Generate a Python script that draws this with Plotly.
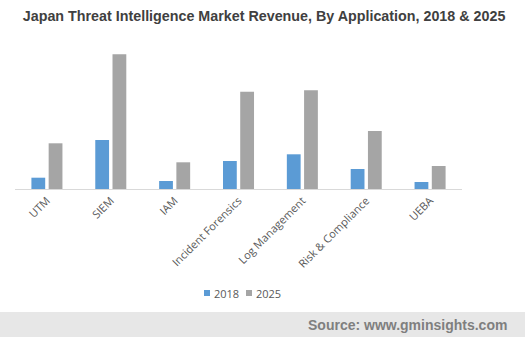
import plotly.graph_objects as go

categories = ["UTM", "SIEM", "IAM", "Incident Forensics", "Log Management", "Risk & Compliance", "UEBA"]
rev_2018 = [11.3, 49, 8, 28, 34.7, 20, 7]
rev_2025 = [45.7, 134.7, 26.7, 97.3, 98.7, 58, 23]
series_names = ["2018", "2025"]
series_colors = ["#5B9BD5", "#A5A5A5"]

W, H = 525, 337
PT, PB, PL, PR = 39, 189, 15, 462
PH = PB - PT
PW = PR - PL

def py(px):
    return (PB - px) / PH

def pxx(px):
    return (px - PL) / PW

fig = go.Figure()
for name, vals, col in zip(series_names, [rev_2018, rev_2025], series_colors):
    fig.add_trace(go.Bar(x=categories, y=vals, name=name, marker=dict(color=col, line=dict(width=0))))

# legend drawn manually (compact, like the reference)
shapes = [dict(type="rect", xref="paper", yref="paper", x0=-1, x1=2,
               y0=py(H + 5), y1=py(312), fillcolor="#E7E7E7", line=dict(width=0), layer="below")]
annotations = [dict(text="<b>Source: www.gminsights.com</b>", xref="paper", yref="paper",
                    x=pxx(509), xanchor="right", y=py(325), yanchor="middle", showarrow=False,
                    font=dict(family="Liberation Sans, Arial", size=14, color="#7F7F7F"))]
leg_x = [204, 246]
for lx, name, col in zip(leg_x, series_names, series_colors):
    shapes.append(dict(type="rect", xref="paper", yref="paper", x0=pxx(lx), x1=pxx(lx + 6),
                       y0=py(296), y1=py(290), fillcolor=col, line=dict(width=0)))
    annotations.append(dict(text=name, xref="paper", yref="paper", x=pxx(lx + 8), xanchor="left",
                            y=py(293), yanchor="middle", showarrow=False,
                            font=dict(family="Open Sans, Segoe UI", size=11, color="#595959")))

fig.update_layout(
    width=W, height=H,
    margin=dict(l=PL, r=W - PR, t=PT, b=H - PB, autoexpand=False),
    paper_bgcolor="white", plot_bgcolor="white",
    barmode="group", bargap=0.46, bargroupgap=0.2,
    title=dict(text="<b>Japan Threat Intelligence Market Revenue, By Application, 2018 & 2025</b>",
               x=0.503, xref="container", xanchor="center", y=1 - 16 / H, yref="container", yanchor="middle",
               font=dict(family="Liberation Sans, Arial", size=14.3, color="#404040")),
    xaxis=dict(tickangle=-45, showline=True, linecolor="#D9D9D9", linewidth=1, ticks="", automargin=False,
               tickfont=dict(family="Open Sans, Segoe UI", size=11, color="#595959"), showgrid=False),
    yaxis=dict(visible=False, range=[0, 150], showgrid=False, zeroline=False, automargin=False),
    showlegend=False,
    shapes=shapes,
    annotations=annotations,
)
fig.write_html("out.html")
